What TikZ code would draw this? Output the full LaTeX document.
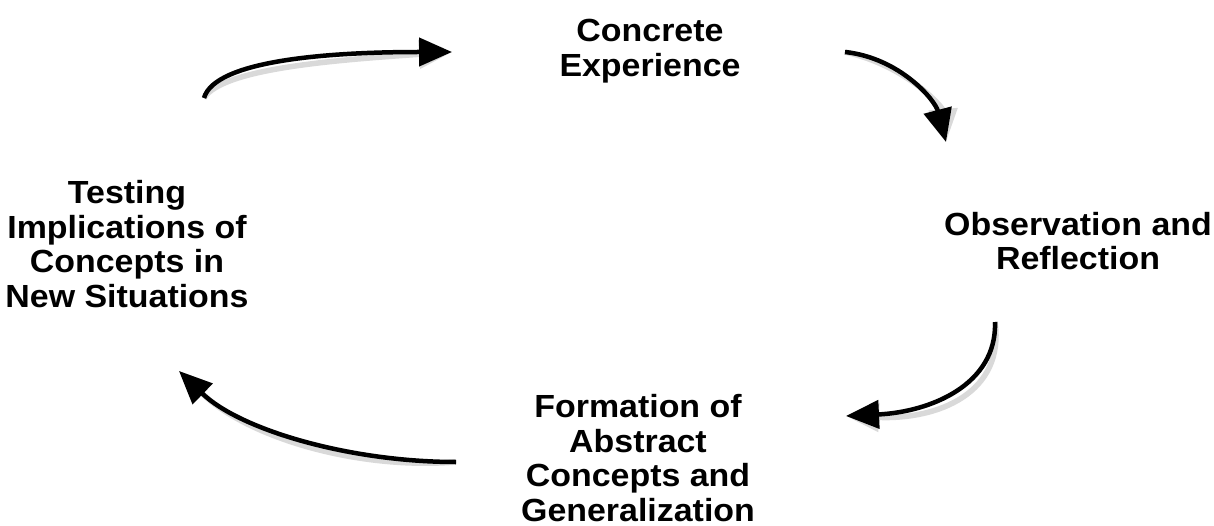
\documentclass[tikz,border=0pt]{standalone}
\usepackage{fontspec}
\setmainfont{Liberation Sans}[FakeStretch=1.06]
\usetikzlibrary{arrows.meta}
\tikzset{
  lbl/.style={font=\bfseries\fontsize{32}{34.5}\selectfont, align=center, inner sep=0pt},
  cyc/.style={line width=4.5pt, -{Triangle[length=33pt,width=28pt]}},
  shd/.style={cyc, draw=black!15, line width=5.5pt, shift={(8pt,-8pt)}},
}
\begin{document}
\begin{tikzpicture}[x=1pt,y=-1pt]
\useasboundingbox (0,0) rectangle (1214,526);
\node[lbl] (ce) at (650,51) {Concrete\\Experience};
\node[lbl] (or) at (1078,241) {Observation and\\Reflection};
\node[lbl] (ti) at (127,244) {Testing\\Implications of\\Concepts in\\New Situations};
\node[lbl] (fa) at (638,458) {Formation of\\Abstract\\Concepts and\\Generalization};
\coordinate (a1s) at (204,98);  \coordinate (a1e) at (452,52);
\coordinate (a2s) at (845,52);  \coordinate (a2e) at (946,142);
\coordinate (a3s) at (995,322); \coordinate (a3e) at (846,416);
\coordinate (a4s) at (456,462); \coordinate (a4e) at (179,371);
% shadows
\draw[shd] (a1s) .. controls (215,60) and (330,52) .. (a1e);
\draw[shd] (a2s) .. controls (900,58) and (935,100) .. (a2e);
\draw[shd] (a3s) .. controls (997,385) and (930,412) .. (a3e);
\draw[shd] (a4s) .. controls (350,462) and (240,430) .. (a4e);
% arrows
\draw[cyc] (a1s) .. controls (215,60) and (330,52) .. (a1e);
\draw[cyc] (a2s) .. controls (900,58) and (935,100) .. (a2e);
\draw[cyc] (a3s) .. controls (997,385) and (930,412) .. (a3e);
\draw[cyc] (a4s) .. controls (350,462) and (240,430) .. (a4e);
\end{tikzpicture}
\end{document}
